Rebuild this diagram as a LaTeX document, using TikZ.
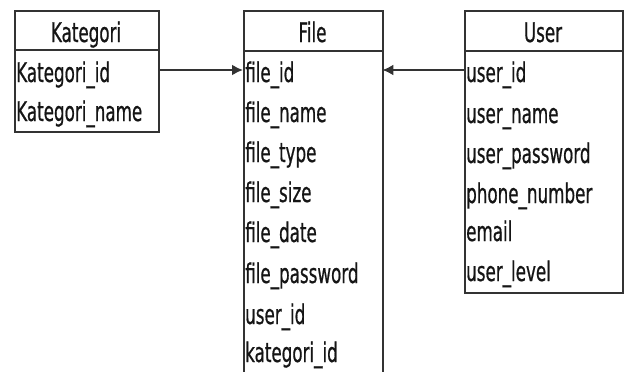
\documentclass[tikz,border=0pt]{standalone}
\usepackage{fontspec}
\setmainfont{DejaVu Sans}[FakeStretch=0.62,FakeBold=0.6]
\usetikzlibrary{arrows.meta}
\definecolor{linec}{HTML}{333333}
\definecolor{txtc}{HTML}{151515}
\begin{document}
\begin{tikzpicture}[x=1pt,y=-1pt,
  tbl/.style={draw=linec, line width=2pt, anchor=north west, inner sep=0pt},
  hdr/.style={font=\fontsize{27}{30}\selectfont, text=txtc, anchor=base, inner sep=0pt},
  row/.style={font=\fontsize{27}{30}\selectfont, text=txtc, anchor=base west,
    inner xsep=2pt, inner ysep=0pt, align=left, text width=#1,
    text height=32pt, text depth=8pt},
  sep/.style={draw=linec, line width=2pt},
  rel/.style={draw=linec, line width=2pt, -{Latex[length=11pt,width=11pt]}}]
\useasboundingbox (0,0) rectangle (624,372);
\clip (0,0) rectangle (624,372);
\fill[white] (0,0) rectangle (624,372);
% tables
\node[tbl, minimum width=144pt, minimum height=121pt] (kat) at (14,10) {};
\node[tbl, minimum width=139pt, minimum height=400pt] (fil) at (243,10) {};
\node[tbl, minimum width=158pt, minimum height=282pt] (usr) at (464,10) {};
\draw[sep] ([yshift=-40pt]kat.north west) -- ([yshift=-40pt]kat.north east);
\draw[sep] ([yshift=-41pt]fil.north west) -- ([yshift=-41pt]fil.north east);
\draw[sep] ([yshift=-41pt]usr.north west) -- ([yshift=-41pt]usr.north east);
% headers
\node[hdr] (katH) at (86,42) {Kategori};
\node[hdr] (filH) at (312.5,42) {File};
\node[hdr] (usrH) at (543,42) {User};
% Kategori rows
\node[row=140pt] (k1) at (14,82) {Kategori\_id};
\node[row=140pt] (k2) at (14,121) {Kategori\_name};
% File rows
\node[row=135pt] (f1) at (243,82) {file\_id};
\node[row=135pt] (f2) at (243,122) {file\_name};
\node[row=135pt] (f3) at (243,162) {file\_type};
\node[row=135pt] (f4) at (243,202) {file\_size};
\node[row=135pt] (f5) at (243,242) {file\_date};
\node[row=135pt] (f6) at (243,283) {file\_password};
\node[row=135pt] (f7) at (243,324) {user\_id};
\node[row=135pt] (f8) at (243,362) {kategori\_id};
% User rows
\node[row=154pt] (u1) at (464,82) {user\_id};
\node[row=154pt] (u2) at (464,123) {user\_name};
\node[row=154pt] (u3) at (464,163) {user\_password};
\node[row=154pt] (u4) at (464,203) {phone\_number};
\node[row=154pt] (u5) at (464,241) {email};
\node[row=154pt] (u6) at (464,281) {user\_level};
% relations
\draw[rel] (k1.east) -- (f1.west);
\draw[rel] (u1.west) -- (f1.east);
\end{tikzpicture}
\end{document}
